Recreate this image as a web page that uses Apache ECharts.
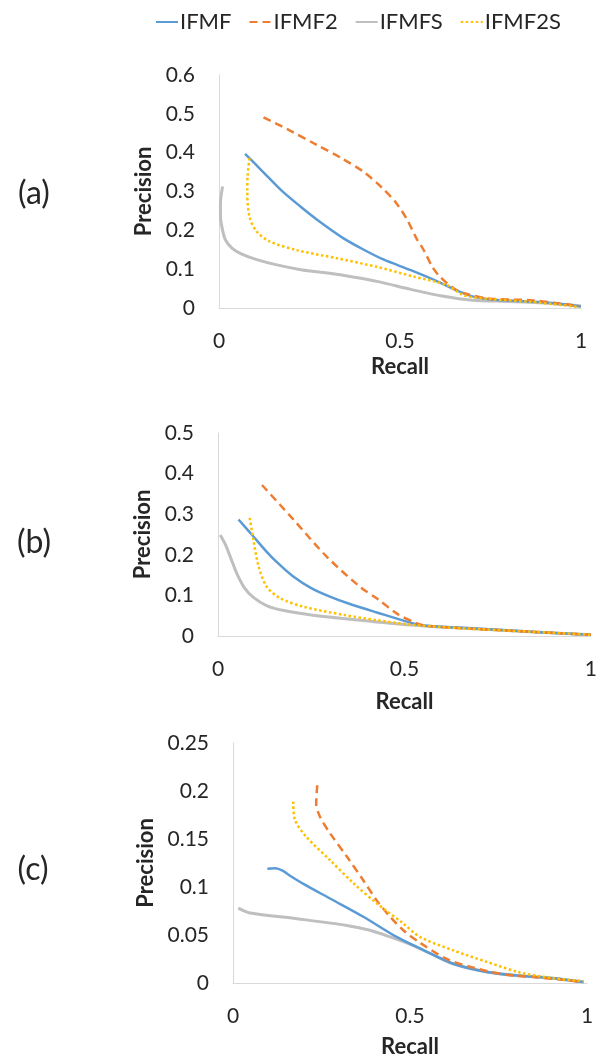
<!DOCTYPE html>
<html>
<head>
<meta charset="utf-8">
<script src="https://cdn.jsdelivr.net/npm/echarts@6/dist/echarts.min.js"></script>
<style>
html,body{margin:0;padding:0;background:#fff;}
#chart{width:600px;height:1059px;}
</style>
</head>
<body>
<div id="chart"></div>
<script>
// Series names
const seriesNames = ['IFMF', 'IFMF2', 'IFMFS', 'IFMF2S'];
const panelLabels = ['(a)', '(b)', '(c)'];
const xTicks = [0, 0.5, 1];
const yMaxes = [0.6, 0.5, 0.25];
const yIntervals = [0.1, 0.1, 0.05];

// Panel (a) : [recall, precision]
const a_IFMF = [[0.072,0.397],[0.12,0.352],[0.17,0.305],[0.224,0.262],[0.27,0.228],[0.343,0.18],[0.40,0.15],[0.454,0.125],[0.528,0.098],[0.60,0.07],[0.65,0.048],[0.70,0.03],[0.75,0.022],[0.85,0.017],[0.92,0.013],[1.0,0.004]];
const a_IFMF2 = [[0.123,0.491],[0.2,0.455],[0.27,0.42],[0.34,0.385],[0.40,0.35],[0.45,0.31],[0.49,0.27],[0.52,0.227],[0.545,0.18],[0.565,0.15],[0.59,0.105],[0.61,0.081],[0.648,0.051],[0.685,0.036],[0.75,0.024],[0.86,0.02],[0.93,0.013],[0.995,0.005]];
const a_IFMFS = [[0.01,0.313],[0.004,0.27],[0.004,0.236],[0.01,0.2],[0.018,0.175],[0.035,0.155],[0.06,0.14],[0.1,0.126],[0.16,0.111],[0.23,0.098],[0.30,0.09],[0.37,0.08],[0.44,0.068],[0.53,0.048],[0.62,0.03],[0.70,0.02],[0.80,0.017],[0.90,0.013],[1.0,0.005]];
const a_IFMF2S = [[0.084,0.386],[0.079,0.34],[0.078,0.304],[0.084,0.236],[0.104,0.197],[0.141,0.171],[0.215,0.149],[0.326,0.128],[0.436,0.106],[0.537,0.081],[0.63,0.059],[0.675,0.033],[0.75,0.023],[0.86,0.016],[0.99,0.003]];

// Panel (b)
const b_IFMF = [[0.055,0.287],[0.095,0.245],[0.13,0.208],[0.16,0.18],[0.2,0.148],[0.25,0.118],[0.3,0.097],[0.35,0.08],[0.426,0.058],[0.516,0.033],[0.56,0.025],[0.7,0.018],[0.85,0.01],[1.0,0.003]];
const b_IFMF2 = [[0.118,0.372],[0.203,0.286],[0.292,0.195],[0.381,0.121],[0.43,0.09],[0.48,0.055],[0.533,0.031],[0.56,0.025],[0.7,0.017],[0.85,0.01],[1.0,0.003]];
const b_IFMFS = [[0.006,0.249],[0.02,0.225],[0.035,0.19],[0.05,0.155],[0.07,0.12],[0.095,0.095],[0.13,0.075],[0.18,0.062],[0.25,0.052],[0.381,0.039],[0.516,0.027],[0.6,0.022],[0.7,0.017],[0.85,0.01],[1.0,0.003]];
const b_IFMF2S = [[0.085,0.291],[0.095,0.236],[0.109,0.171],[0.131,0.121],[0.167,0.093],[0.23,0.072],[0.337,0.052],[0.426,0.039],[0.516,0.028],[0.6,0.022],[0.7,0.017],[0.85,0.01],[1.0,0.003]];

// Panel (c)
const c_IFMF = [[0.097,0.119],[0.12,0.1195],[0.14,0.117],[0.16,0.112],[0.2,0.103],[0.274,0.088],[0.368,0.069],[0.462,0.048],[0.528,0.036],[0.622,0.02],[0.717,0.0115],[0.81,0.0075],[0.905,0.005],[0.99,0.001]];
const c_IFMF2 = [[0.238,0.206],[0.235,0.187],[0.246,0.173],[0.274,0.156],[0.321,0.132],[0.368,0.107],[0.406,0.086],[0.444,0.069],[0.481,0.055],[0.528,0.042],[0.604,0.025],[0.669,0.017],[0.764,0.009],[0.858,0.006],[0.99,0.001]];
const c_IFMFS = [[0.015,0.078],[0.048,0.073],[0.18,0.067],[0.321,0.06],[0.387,0.055],[0.444,0.048],[0.509,0.039],[0.556,0.031],[0.622,0.02],[0.717,0.0115],[0.81,0.0075],[0.905,0.005],[0.99,0.001]];
const c_IFMF2S = [[0.17,0.189],[0.175,0.17],[0.208,0.152],[0.274,0.128],[0.34,0.104],[0.406,0.083],[0.481,0.062],[0.528,0.048],[0.622,0.034],[0.717,0.022],[0.81,0.011],[0.905,0.005],[0.99,0.002]];

const panelData = [
  [a_IFMF, a_IFMF2, a_IFMFS, a_IFMF2S],
  [b_IFMF, b_IFMF2, b_IFMFS, b_IFMF2S],
  [c_IFMF, c_IFMF2, c_IFMFS, c_IFMF2S]
];

const FONT = 'Lato, "Open Sans", sans-serif';
const TXT = '#262626';
const colors = ['#5B9BD5', '#ED7D31', '#BFBFBF', '#FFC000'];
const lineStyles = [
  {width: 2.5, type: 'solid'},
  {width: 2.5, type: [8, 5]},
  {width: 3, type: 'solid'},
  {width: 2.5, type: [2.5, 2.5]}
];

const grids = [
  {left: 219, right: 19, top: 75, height: 233},
  {left: 218, right: 9, top: 433, height: 203},
  {left: 233, right: 13, top: 743, height: 240}
];
const xNameGaps = [48, 55, 53];
const yNameGaps = [59, 61, 73];
const labelCenters = [[34,194],[34,543],[33,870]];

const axisLine = {show: true, lineStyle: {color: '#D9D9D9', width: 1}};

const option = {
  backgroundColor: '#fff',
  animation: false,
  color: colors,
  legend: {
    data: seriesNames,
    left: 150, top: 6,
    itemWidth: 22, itemHeight: 10, itemGap: 17,
    itemStyle: {opacity: 0},
    textStyle: {fontFamily: FONT, fontSize: 22, color: TXT, padding: [0,0,0,-3]}
  },
  grid: grids,
  xAxis: grids.map((g, i) => ({
    type: 'value', gridIndex: i, min: 0, max: 1, interval: 0.5,
    axisLine: axisLine, axisTick: {show: false}, splitLine: {show: false},
    axisLabel: {fontFamily: FONT, fontSize: 21, color: TXT, margin: 23},
    name: 'Recall', nameLocation: 'middle', nameGap: xNameGaps[i],
    nameTextStyle: {fontFamily: FONT, fontSize: 22, fontWeight: 'bold', color: TXT}
  })),
  yAxis: grids.map((g, i) => ({
    type: 'value', gridIndex: i, min: 0, max: yMaxes[i], interval: yIntervals[i],
    axisLine: axisLine, axisTick: {show: false}, splitLine: {show: false},
    axisLabel: {fontFamily: FONT, fontSize: 21, color: TXT, margin: 24},
    name: 'Precision', nameLocation: 'middle', nameGap: yNameGaps[i], nameRotate: 90,
    nameTextStyle: {fontFamily: FONT, fontSize: 22, fontWeight: 'bold', color: TXT}
  })),
  graphic: panelLabels.map((t, i) => ({
    type: 'text', x: labelCenters[i][0], y: labelCenters[i][1],
    style: {text: t, font: '32px ' + FONT, fill: TXT, textAlign: 'center', textVerticalAlign: 'middle'}
  })),
  series: []
};

panelData.forEach((arr, p) => {
  arr.forEach((d, k) => {
    option.series.push({
      type: 'line', name: seriesNames[k], xAxisIndex: p, yAxisIndex: p,
      data: d, showSymbol: false, symbol: 'none', smooth: 0.3,
      z: [2, 3, 1, 4][k],
      lineStyle: Object.assign({color: colors[k], cap: 'butt'}, lineStyles[k]),
      itemStyle: {color: colors[k]}
    });
  });
});

const chart = echarts.init(document.getElementById('chart'), null, {renderer: 'canvas'});
chart.setOption(option);
</script>
</body>
</html>
